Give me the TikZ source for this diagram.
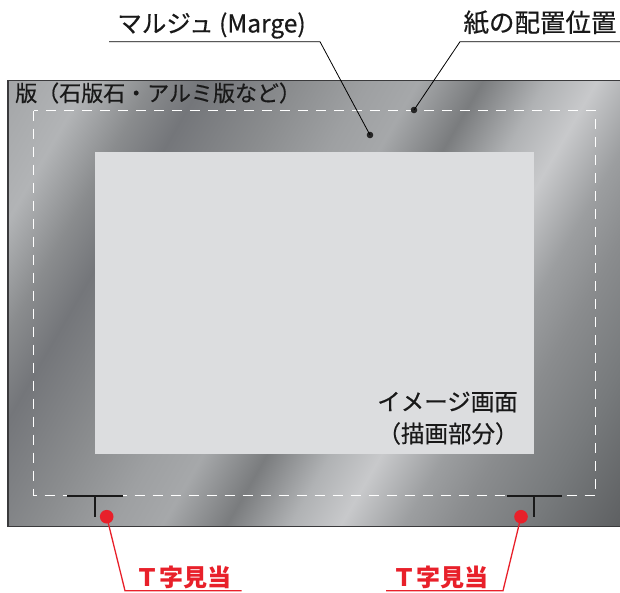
\documentclass[tikz,border=0pt]{standalone}
\usepackage{fontspec}
\setmainfont{Noto Sans CJK JP}
\newfontfamily\jpm[FakeBold=0.5]{Noto Sans CJK JP}
\definecolor{tred}{HTML}{E8202A}
\definecolor{imgfill}{HTML}{DCDDDF}
\definecolor{pborder}{HTML}{3A3A3C}
\definecolor{m0}{HTML}{8E9092}
\definecolor{m1}{HTML}{A4A6A8}
\definecolor{m2}{HTML}{B2B4B6}
\definecolor{m3}{HTML}{8A8C8E}
\definecolor{m4}{HTML}{74767A}
\definecolor{m5}{HTML}{8A8C8E}
\definecolor{m6}{HTML}{9EA0A2}
\definecolor{m7}{HTML}{A6A8AA}
\definecolor{m8}{HTML}{7A7C7E}
\definecolor{m9}{HTML}{B0B2B4}
\definecolor{m10}{HTML}{C8C9CB}
\definecolor{m11}{HTML}{9C9EA0}
\definecolor{m12}{HTML}{8A8C8E}
\definecolor{m13}{HTML}{777A7C}
\definecolor{m14}{HTML}{5E6062}
\definecolor{m15}{HTML}{5A5C5E}
\pgfdeclarehorizontalshading{metal}{100bp}{color(0bp)=(m0); color(16bp)=(m1); color(22bp)=(m2); color(27bp)=(m3); color(31bp)=(m4); color(38bp)=(m5); color(44bp)=(m6); color(48bp)=(m7); color(53bp)=(m8); color(58bp)=(m9); color(62bp)=(m10); color(67bp)=(m11); color(71bp)=(m12); color(77bp)=(m13); color(84bp)=(m14); color(100bp)=(m15)}
\begin{document}
\begin{tikzpicture}[x=1pt,y=-1pt,
  lab/.style={inner sep=0pt, text=black!90},
  redlab/.style={inner sep=0pt, text=tred, font=\fontsize{24}{24}\selectfont\bfseries},
  leader/.style={draw=black, line width=0.8pt},
  rleader/.style={draw=tred, line width=1.3pt},
  bdot/.style={circle, fill=black!85, inner sep=0pt, minimum size=6.6pt},
  rdot/.style={circle, fill=tred, inner sep=0pt, minimum size=13.6pt},
  tmark/.style={draw=black!90, line width=1.8pt},
  margin/.style={draw=white, line width=1pt, dash pattern=on 10pt off 8pt}]
\useasboundingbox (0,0) rectangle (620,592);
% plate
\shade[shading=metal, shading angle=-30] (8,80.7) rectangle (624,526.7);
\draw[draw=pborder, line width=1.3pt] (624,80.7) -- (8,80.7) -- (8,526.7) -- (624,526.7);
% image area
\fill[imgfill] (95,152) rectangle (534,454);
% margin (paper position) dashed
\draw[margin] (33.5,110.5) rectangle (595.5,495.5);
% texts
\node[lab, font=\jpm\fontsize{24.5}{24.5}\selectfont] (marge) at (211.5,25.5) {マルジュ (Marge)};
\node[lab, font=\jpm\fontsize{25.5}{25.5}\selectfont] (paper) at (540,22.5) {紙の配置位置};
\node[lab, anchor=west, font=\jpm\fontsize{22}{22}\selectfont] (plate) at (15,93) {版（石版石・アルミ版など）};
\node[lab, font=\jpm\fontsize{23.5}{23.5}\selectfont] (img1) at (447.5,402) {イメージ画面};
\node[lab, font=\jpm\fontsize{23.5}{23.5}\selectfont] (img2) at (448,433.5) {（描画部分）};
\node[redlab] (tl) at (183.5,577) {Ｔ字見当};
\node[redlab] (tr) at (440,577) {Ｔ字見当};
% dots
\node[bdot] (mdot) at (370,135) {};
\node[bdot] (pdot) at (414,110) {};
\node[rdot] (ldot) at (106.7,516.7) {};
\node[rdot] (rdotn) at (521,516.7) {};
% leader coordinates
\coordinate (mu1) at (109,41.7);
\coordinate (mu2) at (320,41.7);
\coordinate (pu1) at (460,41.7);
\coordinate (pu2) at (624,41.7);
\coordinate (lk) at (125,590.7);
\coordinate (le) at (241.7,590.7);
\coordinate (rk) at (503,590.7);
\coordinate (re) at (386,590.7);
\draw[leader] (mu1) -- (mu2) -- (mdot.center);
\draw[leader] (pu2) -- (pu1) -- (pdot.center);
\draw[rleader] (ldot.center) -- (lk) -- (le);
\draw[rleader] (rdotn.center) -- (rk) -- (re);
% T marks
\coordinate (tlh1) at (67,496); \coordinate (tlh2) at (123,496);
\coordinate (tlv1) at (95,496); \coordinate (tlv2) at (95,517);
\coordinate (trh1) at (507,496); \coordinate (trh2) at (562,496);
\coordinate (trv1) at (534,496); \coordinate (trv2) at (534,517);
\draw[tmark] (tlh1) -- (tlh2) (tlv1) -- (tlv2);
\draw[tmark] (trh1) -- (trh2) (trv1) -- (trv2);
\end{tikzpicture}
\end{document}
